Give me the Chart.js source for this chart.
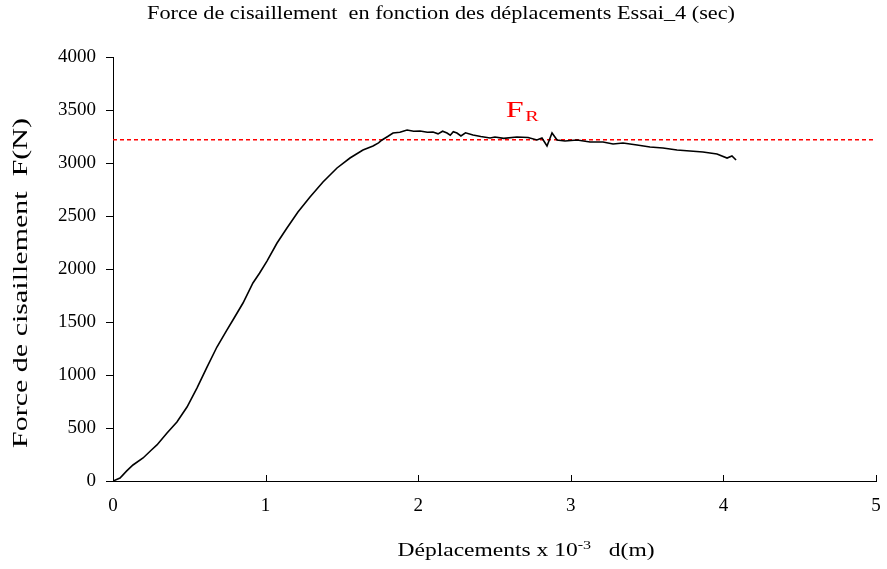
<!DOCTYPE html>
<html>
<head>
<meta charset="utf-8">
<script src="https://cdn.jsdelivr.net/npm/chart.js@4/dist/chart.umd.min.js"></script>
<style>
  html, body { margin: 0; padding: 0; background: #fff; }
  #wrap { width: 887px; height: 569px; position: relative; }
</style>
</head>
<body>
<div id="wrap"><canvas id="myChart"></canvas></div>
<script>
// displacement (x 10^-3 m) and shear force (N), essai 4 (sec)
var deplacements = [0, 0.046, 0.09, 0.131, 0.197, 0.25, 0.288, 0.354, 0.419, 0.485, 0.55, 0.616, 0.681, 0.747, 0.786, 0.852,
  0.917, 0.96, 1.009, 1.075, 1.14, 1.212, 1.291, 1.376, 1.468, 1.553, 1.638, 1.704, 1.74, 1.763, 1.8, 1.835, 1.88, 1.927,
  1.97, 2.012, 2.06, 2.097, 2.13, 2.16, 2.189, 2.21, 2.23, 2.254, 2.28, 2.31, 2.359, 2.41, 2.471, 2.503, 2.56, 2.647, 2.72,
  2.778, 2.811, 2.844, 2.877, 2.91, 2.962, 3.041, 3.126, 3.211, 3.277, 3.342, 3.434, 3.519, 3.604, 3.696, 3.781, 3.866,
  3.958, 4.024, 4.056, 4.083];
var force = [0, 28, 95, 151, 217, 290, 340, 453, 557, 698, 877, 1075, 1264, 1425, 1519, 1679,
  1868, 1960, 2075, 2245, 2387, 2538, 2679, 2821, 2953, 3047, 3123, 3160, 3190, 3217, 3250, 3283, 3290, 3311,
  3300, 3302, 3290, 3292, 3275, 3300, 3283, 3262, 3295, 3283, 3255, 3285, 3264, 3250, 3236, 3245, 3232, 3245, 3240,
  3217, 3236, 3160, 3283, 3217, 3208, 3217, 3198, 3198, 3179, 3189, 3170, 3151, 3142, 3123, 3113, 3104,
  3085, 3047, 3066, 3028];

var forceRupture = 3220;
var xTicks = [0, 1, 2, 3, 4, 5];

var courbe = deplacements.map(function (d, i) { return { x: d, y: force[i] }; });
var ligneFR = [{ x: 0, y: forceRupture }, { x: 5, y: forceRupture }];

var serif = '"Liberation Serif", "Times New Roman", serif';

// draws text (a list of [string, size, raise] pieces) stretched to a given width, centred on cx
function drawStretched(ctx, pieces, cx, baseY, width) {
  var total = 0;
  pieces.forEach(function (p) {
    ctx.font = p[1] + 'px ' + serif;
    p.w = ctx.measureText(p[0]).width;
    total += p.w;
  });
  var s = width / total;
  ctx.save();
  ctx.translate(cx - width / 2, baseY);
  ctx.scale(s, 1);
  ctx.textAlign = 'left';
  ctx.textBaseline = 'alphabetic';
  var x = 0;
  pieces.forEach(function (p) {
    ctx.font = p[1] + 'px ' + serif;
    ctx.fillText(p[0], x, -p[2]);
    x += p.w;
  });
  ctx.restore();
}

// titles, inside x ticks and the F_R label
var annotations = {
  id: 'annotations',
  afterDraw: function (chart) {
    var ctx = chart.ctx;
    var xs = chart.scales.x, ys = chart.scales.y, area = chart.chartArea;
    ctx.save();
    ctx.fillStyle = '#000';
    ctx.strokeStyle = '#000';
    ctx.lineWidth = 1;

    // x tick marks pointing into the plot
    xTicks.forEach(function (v) {
      var px = Math.round(xs.getPixelForValue(v)) + 0.5;
      ctx.beginPath();
      ctx.moveTo(px, area.bottom);
      ctx.lineTo(px, area.bottom - 6);
      ctx.stroke();
    });

    // chart title
    drawStretched(ctx, [['Force de cisaillement  en fonction des déplacements Essai_4 (sec)', 18, 0]], 441, 19, 588);

    // y axis title
    ctx.save();
    ctx.translate(27, 283);
    ctx.rotate(-Math.PI / 2);
    drawStretched(ctx, [['Force de cisaillement  F(N)', 20, 0]], 0, 0, 330);
    ctx.restore();

    // x axis title with superscript exponent
    drawStretched(ctx, [['Déplacements x 10', 19, 0], ['-3', 13, 7], ['   d(m)', 19, 0]], 526, 556, 257);

    // F_R label
    var fx = xs.getPixelForValue(2.57), fy = ys.getPixelForValue(3434);
    ctx.fillStyle = '#ff0000';
    drawStretched(ctx, [['F', 24, 0], [' ', 5, 0], ['R', 15, -4]], fx + 17, fy, 33);
    ctx.restore();
  }
};

var ctxChart = document.getElementById('myChart').getContext('2d');
var myChart = new Chart(ctxChart, {
  type: 'scatter',
  data: {
    datasets: [{
      label: 'F',
      data: courbe,
      showLine: true,
      borderColor: '#000',
      borderWidth: 1.6,
      pointRadius: 0,
      tension: 0,
      fill: false,
      order: 1
    }, {
      label: 'FR',
      data: ligneFR,
      showLine: true,
      borderColor: '#ff0000',
      borderWidth: 1.4,
      borderDash: [4, 3],
      pointRadius: 0,
      fill: false,
      order: 2
    }]
  },
  options: {
    responsive: true,
    maintainAspectRatio: false,
    animation: false,
    layout: { padding: { top: 57, right: 11, left: 0, bottom: 0 } },
    plugins: {
      legend: { display: false },
      tooltip: { enabled: false },
      title: { display: false }
    },
    scales: {
      x: {
        type: 'linear',
        min: 0,
        max: 5,
        afterFit: function (scale) {
          scale.height = 88;
          scale.paddingLeft = 0;
          scale.paddingRight = 0;
        },
        afterBuildTicks: function (scale) {
          scale.ticks = xTicks.map(function (v) { return { value: v }; });
        },
        border: { display: true, color: '#000', width: 1 },
        grid: { display: false, drawTicks: false },
        ticks: {
          color: '#000',
          font: { family: serif, size: 19 },
          padding: 14,
          maxRotation: 0
        }
      },
      y: {
        min: 0,
        max: 4000,
        afterFit: function (scale) {
          scale.width = 113;
          scale.paddingTop = 0;
          scale.paddingBottom = 0;
        },
        border: { display: true, color: '#000', width: 1 },
        grid: { drawOnChartArea: false, drawTicks: true, tickLength: 7, color: '#000' },
        ticks: {
          stepSize: 500,
          color: '#000',
          font: { family: serif, size: 19 },
          padding: 10,
          callback: function (v) { return String(v); }
        }
      }
    }
  },
  plugins: [annotations]
});
</script>
</body>
</html>
